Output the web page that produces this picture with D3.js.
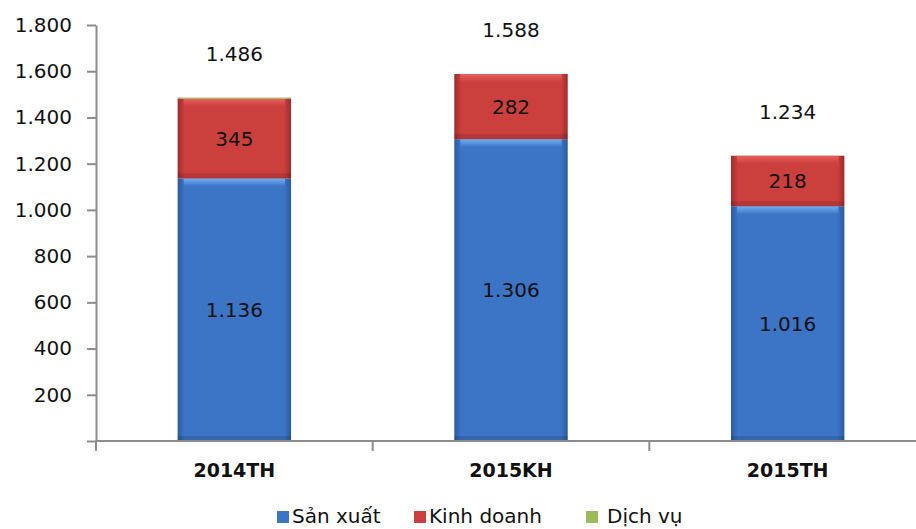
<!DOCTYPE html>
<html>
<head>
<meta charset="utf-8">
<script src="https://cdn.jsdelivr.net/npm/d3@7"></script>
<style>
  body { margin: 0; background: #fff; }
  svg text { font-family: "DejaVu Sans", sans-serif; fill: #111; }
  .axis path, .axis line { stroke: #8c8c8c; stroke-width: 2; }
</style>
</head>
<body>
<svg id="chart" width="916" height="529"></svg>
<script>
var categories = ["2014TH", "2015KH", "2015TH"];
var sanXuat = [1136, 1306, 1016];
var kinhDoanh = [345, 282, 218];
var dichVu = [5, 0, 1];
var totals = [1486, 1588, 1234];
var yTicks = [200, 400, 600, 800, 1000, 1200, 1400, 1600, 1800];
var seriesNames = ["Sản xuất", "Kinh doanh", "Dịch vụ"];

var svg = d3.select("#chart");
var x0 = 96, x1 = 926, yTop = 25, yBottom = 441;

var x = d3.scaleBand().domain(categories).range([x0, x1])
    .paddingInner(0.59).paddingOuter(0.295);
var y = d3.scaleLinear().domain([0, 1800]).range([yBottom, yTop]);

var fmt = function (v) { return d3.format(",")(v).replace(/,/g, "."); };

// gradients for bevel look
var defs = svg.append("defs");
function bevel(id, light, mid, dark) {
    var g = defs.append("linearGradient").attr("id", id)
        .attr("x1", 0).attr("y1", 0).attr("x2", 1).attr("y2", 0);
    g.append("stop").attr("offset", "0%").attr("stop-color", dark);
    g.append("stop").attr("offset", "6%").attr("stop-color", mid);
    g.append("stop").attr("offset", "94%").attr("stop-color", mid);
    g.append("stop").attr("offset", "100%").attr("stop-color", dark);
    var t = defs.append("linearGradient").attr("id", id + "Top")
        .attr("x1", 0).attr("y1", 0).attr("x2", 0).attr("y2", 1);
    t.append("stop").attr("offset", "0%").attr("stop-color", light);
    t.append("stop").attr("offset", "100%").attr("stop-color", mid);
}
bevel("gBlue", "#74aef2", "#3c74c6", "#2c5a9e");
bevel("gRed", "#e8605e", "#cb3f3d", "#9e2c2b");
bevel("gGreen", "#b5d27a", "#9bbb59", "#7d9a44");

var series = [
    {name: seriesNames[0], values: sanXuat, grad: "gBlue", legend: "#3c74c6"},
    {name: seriesNames[1], values: kinhDoanh, grad: "gRed", legend: "#cb3f3d"},
    {name: seriesNames[2], values: dichVu, grad: "gGreen", legend: "#9bbb59"}
];

var stackData = categories.map(function (c, i) {
    return {cat: c, s0: sanXuat[i], s1: kinhDoanh[i], s2: dichVu[i]};
});
var stacked = d3.stack().keys(["s0", "s1", "s2"])(stackData);

stacked.forEach(function (layer, k) {
    var s = series[k];
    var g = svg.append("g");
    layer.forEach(function (d, i) {
        var top = y(d[1]), bot = y(d[0]);
        var h = bot - top;
        if (h <= 0) return;
        var bx = x(categories[i]), bw = x.bandwidth();
        g.append("rect").attr("x", bx).attr("y", top)
            .attr("width", bw).attr("height", h)
            .attr("fill", "url(#" + s.grad + ")");
        if (h > 20) {
            g.append("rect").attr("x", bx + 6).attr("y", top)
                .attr("width", bw - 12).attr("height", 8)
                .attr("fill", "url(#" + s.grad + "Top)");
            g.append("rect").attr("x", bx).attr("y", bot - 5)
                .attr("width", bw).attr("height", 5)
                .attr("fill", "#000").attr("opacity", 0.12);
        }
        if (k < 2) {
            g.append("text")
                .attr("x", bx + bw / 2)
                .attr("y", (top + bot) / 2)
                .attr("dy", "0.36em")
                .attr("text-anchor", "middle")
                .style("font-size", "20px")
                .text(fmt(s.values[i]));
        }
    });
});

// totals
svg.selectAll("text.total")
    .data(categories)
    .enter().append("text")
    .attr("class", "total")
    .attr("x", function (d) { return x(d) + x.bandwidth() / 2; })
    .attr("y", function (d, i) { return y(totals[i]) - 44; })
    .attr("dy", "0.36em")
    .attr("text-anchor", "middle")
    .style("font-size", "20px")
    .text(function (d, i) { return fmt(totals[i]); });

// y axis
var yAxis = svg.append("g").attr("class", "axis")
    .attr("transform", "translate(" + x0 + ",0)")
    .call(d3.axisLeft(y).tickValues([0].concat(yTicks)).tickSize(9).tickSizeOuter(0)
        .tickFormat(function (d) { return d === 0 ? "" : fmt(d); }));
yAxis.selectAll("text").style("font-size", "20px").attr("x", -24).attr("fill", "#222");

// x axis
var xAxis = svg.append("g").attr("class", "axis")
    .attr("transform", "translate(0," + yBottom + ")");
xAxis.append("line").attr("x1", x0).attr("x2", x1).attr("y1", 0).attr("y2", 0);
var bounds = [0, 1, 2, 3].map(function (i) { return x0 + i * x.step(); });
xAxis.selectAll("line.tk").data(bounds).enter().append("line")
    .attr("class", "tk")
    .attr("x1", function (d) { return d; }).attr("x2", function (d) { return d; })
    .attr("y1", 0).attr("y2", 10);
xAxis.selectAll("text").data(categories).enter().append("text")
    .attr("x", function (d) { return x(d) + x.bandwidth() / 2; })
    .attr("y", 29)
    .attr("dy", "0.36em")
    .attr("text-anchor", "middle")
    .style("font-size", "19px")
    .style("font-weight", "bold")
    .text(function (d) { return d; });

// legend
var legendX = [277, 414, 586];
var legend = svg.append("g");
series.forEach(function (s, i) {
    legend.append("rect").attr("x", legendX[i]).attr("y", 511)
        .attr("width", 12).attr("height", 12).attr("fill", s.legend);
    legend.append("text").attr("x", legendX[i] + (i === 2 ? 21 : 15)).attr("y", 516)
        .attr("dy", "0.36em")
        .style("font-size", "20px")
        .text(s.name);
});
</script>
</body>
</html>
